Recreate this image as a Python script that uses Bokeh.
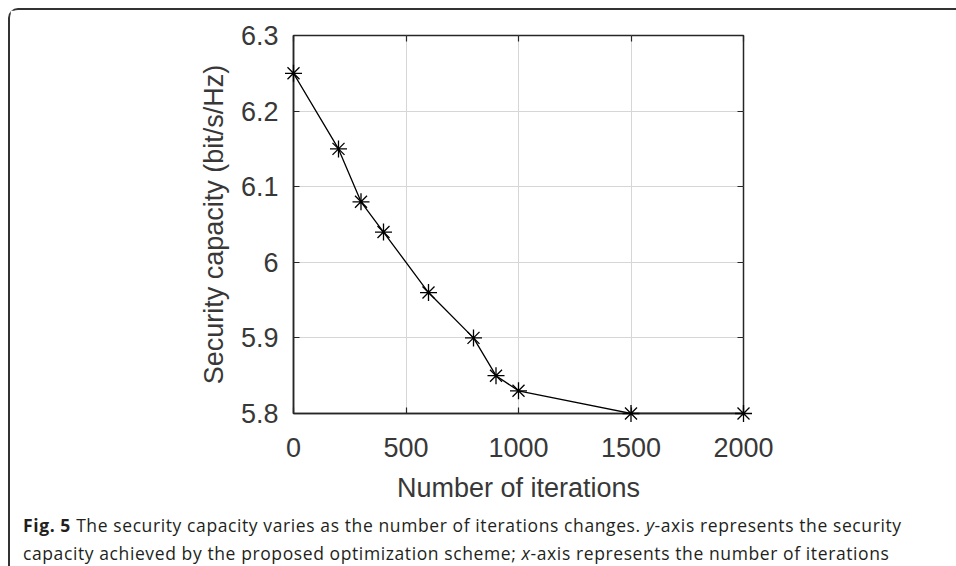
from bokeh.plotting import figure
from bokeh.models import LinearAxis, FixedTicker, CustomJSTickFormatter, Div, Range1d
from bokeh.layouts import column
from bokeh.embed import file_html
from bokeh.resources import INLINE

# ---- data ----
iterations = [0, 200, 300, 400, 600, 800, 900, 1000, 1500, 2000]
capacity = [6.25, 6.15, 6.08, 6.04, 5.96, 5.90, 5.85, 5.83, 5.80, 5.80]
x_ticks = [0, 500, 1000, 1500, 2000]
y_ticks = [5.8, 5.9, 6.0, 6.1, 6.2, 6.3]
x_label = "Number of iterations"
y_label = "Security capacity (bit/s/Hz)"
caption_bold = "Fig. 5"
caption_line1 = " The security capacity varies as the number of iterations changes. "
caption_y = "y"
caption_line1_end = "-axis represents the security"
caption_line2 = "capacity achieved by the proposed optimization scheme; "
caption_x = "x"
caption_line2_end = "-axis represents the number of iterations"

AX = "#262626"
FONT = "Liberation Sans"

p = figure(width=946, height=500,
           x_range=Range1d(0, 2000), y_range=Range1d(5.8, 6.3),
           output_backend="svg", toolbar_location=None,
           min_border_left=283, min_border_right=213,
           min_border_top=25, min_border_bottom=97)
p.background_fill_color = "white"
p.border_fill_color = "white"
p.outline_line_color = AX
p.outline_line_width = 1.5

xa = p.xaxis[0]
ya = p.yaxis[0]
xa.ticker = FixedTicker(ticks=x_ticks)
ya.ticker = FixedTicker(ticks=y_ticks)
ya.formatter = CustomJSTickFormatter(code="return (Math.round(tick*10)/10).toString();")
xa.axis_label = x_label
ya.axis_label = y_label
for ax in (xa, ya):
    ax.major_tick_in = 6
    ax.major_tick_out = 0
    ax.minor_tick_in = 0
    ax.minor_tick_out = 0
    ax.axis_line_color = AX
    ax.axis_line_width = 1.5
    ax.major_tick_line_color = AX
    ax.major_tick_line_width = 1.2
    ax.major_label_text_font = FONT
    ax.major_label_text_font_size = "27px"
    ax.major_label_text_color = "#383838"
    ax.axis_label_text_font = FONT
    ax.axis_label_text_font_size = "27px"
    ax.axis_label_text_font_style = "normal"
    ax.axis_label_text_color = "#383838"
xa.major_label_standoff = 24
xa.axis_label_standoff = 13
ya.major_label_standoff = 15
ya.axis_label_standoff = 9

for loc, ticks in (("above", x_ticks), ("right", y_ticks)):
    ax = LinearAxis(ticker=FixedTicker(ticks=ticks),
                    formatter=CustomJSTickFormatter(code="return '';"),
                    major_tick_in=6, major_tick_out=0,
                    minor_tick_in=0, minor_tick_out=0,
                    axis_line_color=None,
                    major_tick_line_color=AX, major_tick_line_width=1.2,
                    major_label_text_font_size="1px", major_label_standoff=0)
    p.add_layout(ax, loc)

p.xgrid.ticker = FixedTicker(ticks=x_ticks)
p.ygrid.ticker = FixedTicker(ticks=y_ticks)
p.xgrid.grid_line_color = "#d6d6d6"
p.ygrid.grid_line_color = "#d6d6d6"
p.xgrid.grid_line_width = 1
p.ygrid.grid_line_width = 1

p.line(iterations, capacity, line_color="black", line_width=1.3)
p.scatter(iterations, capacity, marker="asterisk", size=17,
          line_color="black", line_width=1.3, level="overlay")

caption_html = (
    '<div style="font-family:\'Open Sans\',sans-serif;font-size:17.5px;line-height:28px;'
    'letter-spacing:0.6px;color:#231f20;padding-left:8px;margin-top:-4px;white-space:nowrap;">'
    f'<b>{caption_bold}</b>{caption_line1}<i>{caption_y}</i>{caption_line1_end}<br>'
    f'{caption_line2}<i>{caption_x}</i>{caption_line2_end}</div>'
)
caption = Div(text=caption_html, width=946, height=54)

layout = column(p, caption, styles={
    "margin": "8px 0 0 8px",
    "border-top": "2px solid #333333",
    "border-left": "2px solid #333333",
    "border-top-left-radius": "10px",
})

open("out.html", "w").write(file_html(layout, INLINE))
